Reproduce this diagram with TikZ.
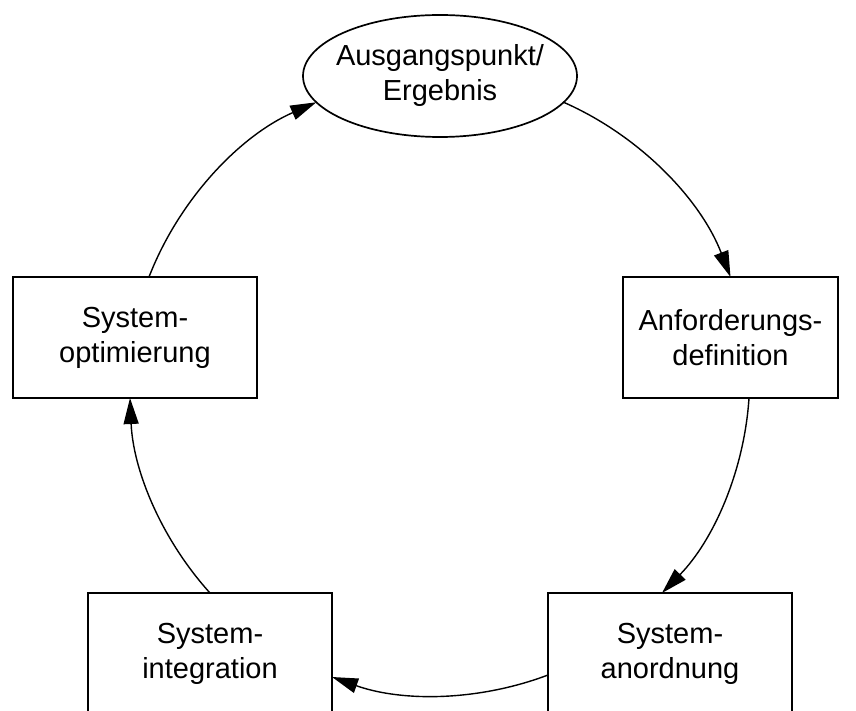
\documentclass[tikz,border=0pt]{standalone}
\usepackage{fontspec}
\setmainfont{Liberation Sans}
\usetikzlibrary{shapes.geometric,arrows.meta}

\begin{document}
\begin{tikzpicture}[x=1pt,y=-1pt,
  every node/.style={font=\fontsize{29}{35}\selectfont, align=center, inner sep=0pt, outer sep=0pt},
  stagebox/.style={draw, line width=1.7pt, rectangle, minimum height=121pt},
  startnode/.style={draw, line width=1.7pt, ellipse, inner xsep=-9pt, minimum width=274pt, minimum height=122pt},
  flow/.style={line width=1.4pt, -{Triangle[length=26pt,width=15pt]}, looseness=0.88}]
  \useasboundingbox (0,0) rectangle (856,711);
  \clip (0,0) rectangle (856,711);

  % process stages
  \node[startnode] (start) at (440,76) {Ausgangspunkt/\\Ergebnis};
  \node[stagebox, minimum width=215pt] (anf)  at (730.5,337.5) {Anforderungs-\\definition};
  \node[stagebox, minimum width=244pt] (sano) at (670,653.5)   {System-\\anordnung};
  \node[stagebox, minimum width=244pt] (sint) at (210,653.5)   {System-\\integration};
  \node[stagebox, minimum width=244pt] (sopt) at (135,337.5)   {System-\\optimierung};

  % cycle arcs
  \draw[flow] (start.-12) to[bend left=22.6] (anf.north);
  \draw[flow] ([xshift=18.5pt]anf.south) to[bend left=20.3] ([xshift=-8pt]sano.north);
  \draw[flow] ([yshift=-21.5pt]sano.west) to[bend left=20.2] ([yshift=-23.5pt]sint.east);
  \draw[flow] (sint.north) to[bend left=19.8] ([xshift=-5pt]sopt.south);
  \draw[flow] ([xshift=14pt]sopt.north) to[bend left=22.6] (start.-168);
\end{tikzpicture}
\end{document}
